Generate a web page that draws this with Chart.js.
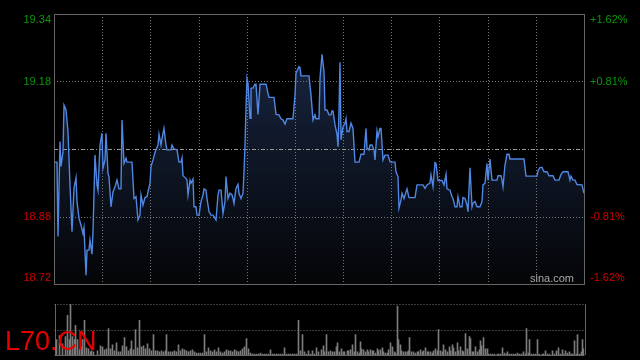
<!DOCTYPE html>
<html>
<head>
<meta charset="utf-8">
<script src="https://cdn.jsdelivr.net/npm/chart.js@4.4.0/dist/chart.umd.min.js"></script>
<style>
  html, body { margin: 0; padding: 0; background: #000; }
  #wrap { position: relative; width: 640px; height: 360px; }
  #wrap canvas { position: absolute; left: 0; top: 0; }
</style>
</head>
<body>
<div id="wrap">
  <canvas id="priceChart" width="640" height="360"></canvas>
  <canvas id="volChart" width="640" height="360"></canvas>
</div>
<script>
// intraday data, time index 0..530 across the session
let prevClose = 19.03;
let pctRange = 0.0162;
let priceLabels = ['19.34', '19.18', '', '18.88', '18.72'];
let pctLabels = ['+1.62%', '+0.81%', '', '-0.81%', '-1.62%'];
let symbol = 'L70.CN';

// [time, price]
let pricePoints = [
  [0,19.000],[3,19.000],[4,18.830],[6,19.047],[7,18.990],[9,19.024],[10,19.130],[12,19.119],[14,19.070],[16,18.948],
  [18,18.841],[20,18.941],[22,18.964],[23,18.910],[25,18.872],[27,18.856],[29,18.837],[30,18.850],[32,18.742],[33,18.799],
  [35,18.799],[36,18.822],[38,18.790],[39,18.841],[41,19.016],[43,18.948],[44,18.936],[46,19.039],[48,19.066],[49,18.986],
  [51,19.005],[52,19.066],[54,18.974],[55,18.967],[57,18.898],[59,18.932],[61,18.944],[63,18.959],[65,18.939],[67,18.939],
  [68,19.096],[70,18.997],[72,19.009],[73,19.000],[78,19.000],[80,18.917],[82,18.921],[84,18.868],[86,18.879],[87,18.925],
  [89,18.902],[91,18.919],[93,18.921],[94,18.932],[96,18.952],[97,18.990],[99,19.005],[101,19.022],[102,19.028],[104,19.039],
  [105,19.064],[107,19.039],[108,19.054],[110,19.077],[112,19.039],[113,19.028],[117,19.028],[118,19.039],[120,19.030],[123,19.028],
  [125,19.000],[127,19.000],[128,19.010],[129,18.969],[132,18.963],[133,18.959],[134,18.925],[136,18.959],[137,18.952],[139,18.961],
  [140,18.898],[142,18.898],[143,18.879],[145,18.879],[147,18.910],[149,18.925],[150,18.939],[152,18.936],[153,18.917],[155,18.887],
  [157,18.879],[159,18.879],[161,18.872],[162,18.868],[164,18.925],[165,18.936],[167,18.936],[169,18.883],[171,18.910],[172,18.967],
  [174,18.917],[176,18.929],[178,18.925],[179,18.917],[180,18.906],[182,18.940],[184,18.949],[185,18.929],[187,18.917],[189,18.929],
  [190,18.978],[191,19.039],[192,19.123],[193,19.191],[194,19.180],[196,19.100],[197,19.169],[199,19.169],[201,19.178],[202,19.178],
  [204,19.109],[206,19.178],[212,19.178],[214,19.157],[215,19.148],[220,19.148],[222,19.109],[225,19.108],[227,19.099],[229,19.096],
  [231,19.087],[233,19.099],[239,19.099],[241,19.153],[242,19.203],[245,19.218],[246,19.216],[247,19.197],[255,19.197],[257,19.153],
  [259,19.096],[261,19.108],[262,19.099],[265,19.099],[266,19.191],[268,19.246],[270,19.207],[271,19.119],[273,19.119],[275,19.108],
  [277,19.108],[278,19.117],[279,19.117],[281,19.085],[283,19.064],[284,19.035],[285,19.115],[286,19.228],[287,19.051],[289,19.081],
  [291,19.089],[292,19.099],[293,19.070],[295,19.070],[297,19.089],[299,19.077],[301,19.000],[305,19.000],[307,19.018],[310,19.018],
  [312,19.077],[313,19.032],[315,19.028],[316,19.039],[318,19.039],[320,19.028],[321,19.005],[323,19.071],[324,19.058],[326,19.077],
  [327,19.077],[329,19.005],[331,19.016],[334,19.016],[336,19.001],[337,19.000],[341,19.000],[342,18.978],[344,18.967],[345,18.895],
  [347,18.914],[348,18.929],[350,18.917],[352,18.932],[353,18.939],[355,18.919],[361,18.919],[363,18.948],[369,18.948],[371,18.940],
  [373,18.948],[376,18.952],[377,18.971],[379,18.944],[381,18.999],[382,18.997],[384,18.958],[388,18.958],[390,18.948],[392,18.972],
  [393,18.939],[396,18.936],[398,18.921],[399,18.917],[401,18.898],[403,18.898],[404,18.921],[406,18.898],[408,18.898],[409,18.919],
  [411,18.917],[413,18.902],[414,18.887],[416,18.987],[418,18.898],[419,18.906],[421,18.910],[423,18.898],[426,18.898],[428,18.910],
  [429,18.948],[431,18.952],[433,18.997],[434,18.959],[436,19.007],[438,18.959],[443,18.959],[444,18.969],[447,18.969],[448,18.959],
  [449,18.944],[451,18.993],[453,19.018],[455,19.018],[456,19.007],[470,19.007],[472,18.968],[483,18.968],[484,18.980],[486,18.988],
  [488,18.988],[490,18.978],[493,18.978],[495,18.969],[499,18.969],[501,18.959],[505,18.959],[507,18.972],[509,18.978],[514,18.978],
  [516,18.959],[517,18.968],[519,18.959],[521,18.959],[523,18.949],[528,18.948],[530,18.929]
];

// [time, volume]
let volumePoints = [
  [2,1500],[5,1900],[8,1100],[11,1800],[13,3900],[15,1500],[16,5000],[18,1800],[20,1500],[21,2900],
  [23,1500],[25,600],[27,800],[28,1500],[30,3400],[32,700],[34,600],[36,300],[37,400],[39,300],
  [43,400],[46,900],[48,800],[50,500],[52,600],[54,2600],[56,600],[58,1000],[60,400],[62,1200],
  [64,300],[66,300],[68,900],[70,1700],[72,800],[74,400],[76,600],[77,1400],[79,500],[81,2500],
  [83,700],[85,3400],[87,800],[89,900],[91,600],[93,1100],[95,600],[97,400],[99,2000],[101,400],
  [103,400],[105,300],[107,400],[109,300],[111,400],[112,2000],[114,300],[116,300],[118,300],[120,400],
  [122,300],[124,1000],[126,400],[128,600],[130,500],[132,400],[134,300],[136,400],[138,500],[140,300],
  [142,200],[144,200],[146,200],[148,200],[150,2000],[152,300],[154,700],[156,400],[158,300],[160,500],
  [162,300],[164,700],[166,300],[168,200],[170,300],[172,500],[174,400],[176,400],[178,300],[180,500],
  [182,400],[184,300],[186,400],[188,600],[190,800],[192,1600],[194,600],[196,200],[198,100],[200,100],
  [202,100],[204,100],[206,200],[208,100],[210,100],[212,100],[214,100],[216,500],[218,100],[220,100],
  [222,100],[224,100],[226,100],[228,100],[230,700],[232,100],[234,100],[236,100],[238,100],[240,100],
  [242,100],[244,3400],[246,400],[248,2000],[250,300],[252,100],[254,400],[256,100],[258,400],[260,100],
  [262,700],[264,300],[267,500],[269,900],[270,300],[272,2000],[274,300],[276,400],[278,300],[280,300],
  [282,800],[283,1200],[285,300],[287,600],[289,300],[290,300],[293,400],[294,400],[296,500],[298,1000],
  [300,300],[301,2000],[303,300],[305,200],[306,1300],[307,600],[309,500],[311,300],[313,500],[314,300],
  [316,500],[318,400],[319,400],[321,200],[323,600],[324,400],[326,500],[328,700],[329,300],[331,200],
  [333,200],[334,500],[336,1200],[338,800],[340,300],[341,200],[343,4800],[344,1500],[346,1000],[347,400],
  [349,300],[351,300],[353,300],[354,400],[355,1700],[357,300],[359,300],[361,200],[363,300],[364,300],
  [366,500],[368,300],[369,400],[371,700],[373,300],[374,300],[376,300],[378,200],[379,400],[381,600],
  [383,400],[384,2500],[386,400],[388,300],[389,1000],[391,500],[393,300],[395,800],[396,400],[398,1000],
  [399,700],[401,300],[403,1200],[404,400],[406,800],[408,400],[409,300],[411,2100],[413,600],[415,1800],
  [416,1600],[418,300],[419,300],[421,800],[423,300],[425,500],[426,1400],[427,900],[429,1700],[431,600],
  [433,600],[434,100],[436,100],[438,100],[440,100],[443,100],[444,100],[446,100],[448,700],[450,200],
  [452,100],[453,300],[455,100],[457,100],[459,100],[461,100],[463,200],[465,100],[467,100],[469,300],
  [471,100],[472,2600],[474,200],[475,1500],[477,100],[479,100],[481,100],[483,1500],[485,100],[488,100],
  [489,100],[491,400],[493,100],[495,100],[498,400],[500,100],[502,400],[504,700],[506,100],[508,500],
  [509,100],[511,400],[513,200],[515,300],[517,100],[518,100],[520,1400],[522,100],[523,2000],[525,100],
  [527,300],[528,1500],[529,600]
];

let volumeMax = 5000;

let fontFamily = 'Arial, "Liberation Sans", sans-serif';
let gridColor = '#777';
let frameColor = '#666';

let gridPrices = [
  prevClose * (1 + pctRange),
  prevClose * (1 + pctRange / 2),
  prevClose,
  prevClose * (1 - pctRange / 2),
  prevClose * (1 - pctRange)
];

let crisp = v => Math.round(v) + 0.5;

let dotLine = (ctx, x1, y1, x2, y2, dash, color) => {
  ctx.save();
  ctx.strokeStyle = color;
  ctx.lineWidth = 1;
  ctx.setLineDash(dash);
  ctx.beginPath();
  ctx.moveTo(x1, y1);
  ctx.lineTo(x2, y2);
  ctx.stroke();
  ctx.restore();
};

let priceDecor = {
  id: 'priceDecor',
  afterDatasetDraw(chart, args) {
    // grid goes over the fill but under the line
    if (args.index !== 1) return;
    const ctx = chart.ctx;
    const a = chart.chartArea;
    const xs = chart.scales.x;
    const ys = chart.scales.y;

    for (let i = 1; i < 11; i++) {
      const x = crisp(xs.getPixelForValue(i * 530 / 11));
      dotLine(ctx, x, a.top, x, a.bottom, [1, 2], gridColor);
    }
    [1, 3].forEach(i => {
      const y = crisp(ys.getPixelForValue(gridPrices[i]));
      dotLine(ctx, a.left, y, a.right, y, [1, 2], gridColor);
    });
    const yMid = crisp(ys.getPixelForValue(prevClose));
    dotLine(ctx, a.left, yMid, a.right, yMid, [4, 2, 1, 2], '#9a9a9a');
  },
  afterDraw(chart) {
    const ctx = chart.ctx;
    const a = chart.chartArea;
    const ys = chart.scales.y;

    ctx.save();
    ctx.strokeStyle = frameColor;
    ctx.lineWidth = 1;
    ctx.strokeRect(crisp(a.left), crisp(a.top), Math.round(a.right - a.left), Math.round(a.bottom - a.top));

    ctx.font = '11px ' + fontFamily;
    ctx.textBaseline = 'middle';
    gridPrices.forEach((p, i) => {
      if (!priceLabels[i]) return;
      let y = ys.getPixelForValue(p);
      y = Math.min(Math.max(y, a.top + 6), a.bottom - 6);
      ctx.fillStyle = p > prevClose ? '#0a960a' : '#d20000';
      ctx.textAlign = 'right';
      ctx.fillText(priceLabels[i], a.left - 3, y);
      ctx.textAlign = 'left';
      ctx.fillText(pctLabels[i], a.right + 6, y);
    });

    ctx.fillStyle = '#a8a8a8';
    ctx.textAlign = 'right';
    ctx.textBaseline = 'alphabetic';
    ctx.fillText('sina.com', a.right - 10, a.bottom - 2);
    ctx.restore();
  }
};

let volDecor = {
  id: 'volDecor',
  beforeDatasetsDraw(chart) {
    const ctx = chart.ctx;
    const a = chart.chartArea;
    const ys = chart.scales.y;
    const top = crisp(a.top);
    const mid = crisp(ys.getPixelForValue(volumeMax / 2));
    const bottom = crisp(a.bottom);
    dotLine(ctx, a.left, top, a.right, top, [1, 2], gridColor);
    dotLine(ctx, a.left, mid, a.right, mid, [1, 2], gridColor);
    dotLine(ctx, a.left, bottom, a.right, bottom, [], frameColor);
    dotLine(ctx, crisp(a.left), a.top, crisp(a.left), a.bottom, [], frameColor);
    dotLine(ctx, crisp(a.right), a.top, crisp(a.right), a.bottom, [], frameColor);
  },
  afterDraw(chart) {
    const ctx = chart.ctx;
    ctx.save();
    ctx.font = '27px ' + fontFamily;
    ctx.fillStyle = '#e60000';
    ctx.textAlign = 'left';
    ctx.textBaseline = 'alphabetic';
    ctx.fillText(symbol, 5, 350);
    ctx.restore();
  }
};

function printPriceChart() {
  const data = pricePoints.map(p => ({ x: p[0], y: p[1] }));
  const ctx = document.getElementById('priceChart').getContext('2d');

  new Chart(ctx, {
    type: 'line',
    data: {
      datasets: [{
          data: data,
          borderColor: '#4f87e2',
          borderWidth: 1.4,
          pointRadius: 0,
          fill: false,
          tension: 0
        }, {
          data: data,
          borderWidth: 0,
          pointRadius: 0,
          fill: 'start',
          backgroundColor: (c) => {
            const a = c.chart.chartArea;
            if (!a) return 'rgba(0,0,0,0)';
            const g = c.chart.ctx.createLinearGradient(0, a.top, 0, a.bottom);
            g.addColorStop(0, '#1b2a49');
            g.addColorStop(1, '#040507');
            return g;
          },
          tension: 0
        }
      ]
    },
    options: {
      responsive: false,
      animation: false,
      layout: { padding: { left: 54, right: 56, top: 14, bottom: 76 } },
      plugins: { legend: { display: false }, tooltip: { enabled: false } },
      scales: {
        x: { type: 'linear', min: 0, max: 530, display: false },
        y: { min: gridPrices[4], max: gridPrices[0], display: false }
      }
    },
    plugins: [priceDecor]
  });
}

function printVolumeChart() {
  const ctx = document.getElementById('volChart').getContext('2d');

  // half pixel shift so the 1px bars land on whole pixels
  new Chart(ctx, {
    type: 'bar',
    data: {
      datasets: [{
        data: volumePoints.map(v => ({ x: v[0], y: v[1] })),
        backgroundColor: '#7c7c7c',
        barThickness: 1,
        grouped: false
      }]
    },
    options: {
      responsive: false,
      animation: false,
      layout: { padding: { left: 54.5, right: 55.5, top: 304, bottom: 5 } },
      plugins: { legend: { display: false }, tooltip: { enabled: false } },
      scales: {
        x: { type: 'linear', min: 0, max: 530, display: false, offset: false },
        y: { min: 0, max: volumeMax, display: false }
      }
    },
    plugins: [volDecor]
  });
}

printPriceChart();
printVolumeChart();
</script>
</body>
</html>
